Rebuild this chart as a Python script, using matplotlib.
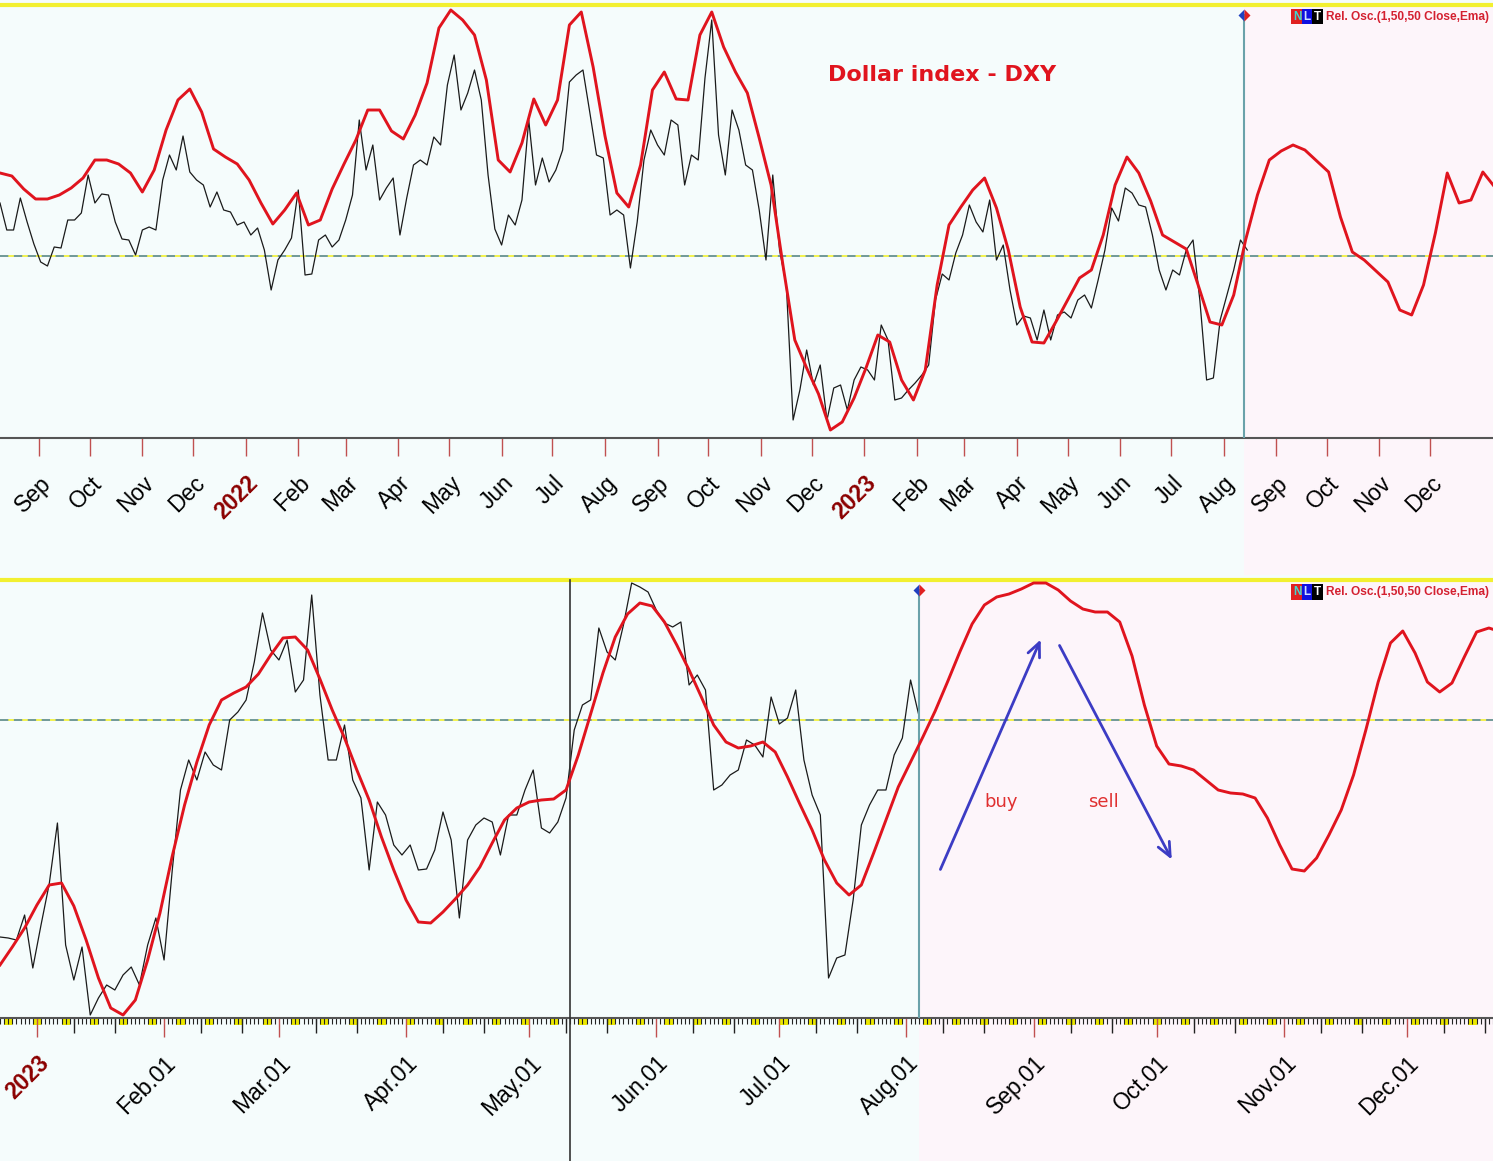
import numpy as np
import pandas as pd
import matplotlib
matplotlib.use('Agg')
import matplotlib.pyplot as plt
import matplotlib.dates as mdates
from matplotlib.patches import Rectangle
from matplotlib.transforms import blended_transform_factory

plt.rcParams['font.family'] = ['Liberation Sans', 'DejaVu Sans']
plt.rcParams['lines.scale_dashes'] = False

# ---- top panel: Aug 2021 .. Dec 2023 (oscillator units) ----
top_start = '2021-08-09'
top_red = [83, 80, 67, 57, 57, 61, 68, 78, 96, 96,
           92, 83, 64, 86, 126, 156, 167, 144, 107, 99,
           92, 76, 53, 32, 46, 63, 31, 36, 67, 92,
           116, 146, 146, 125, 117, 141, 173, 228, 246, 236,
           221, 176, 96, 84, 113, 157, 131, 156, 231, 244,
           189, 120, 63, 49, 91, 166, 184, 157, 156, 221,
           244, 209, 184, 163, 118, 71, -9, -84, -112, -138,
           -174, -166, -142, -112, -79, -86, -124, -144, -114, -29,
           31, 49, 66, 78, 48, 6, -51, -86, -87, -66,
           -44, -22, -14, 21, 71, 99, 83, 55, 21, 14,
           7, -29, -66, -69, -39, 16, 61, 96, 105, 111,
           106, 95, 84, 39, 4, -4, -15, -26, -54, -59,
           -29, 23, 83, 53, 56, 84, 69]
top_black = [53, 26, 26, 58, 34, 12, -6, -10, 9, 8,
             36, 36, 43, 81, 53, 62, 61, 34, 17, 16,
             1, 26, 29, 26, 76, 101, 86, 120, 84, 76,
             71, 49, 64, 46, 44, 31, 34, 21, 28, 6,
             -34, -4, 6, 18, 66, -19, -18, 16, 21, 9,
             16, 36, 61, 136, 86, 111, 56, 68, 78, 21,
             58, 91, 96, 91, 119, 111, 171, 201, 146, 163,
             186, 156, 81, 27, 11, 41, 31, 56, 136, 71,
             98, 74, 86, 106, 174, 181, 186, 144, 101, 98,
             41, 46, 41, -12, 34, 96, 126, 111, 101, 136,
             131, 71, 101, 96, 178, 236, 121, 81, 146, 126,
             91, 86, 46, -4, 81, 6, -29, -164, -134, -94,
             -129, -109, -164, -132, -129, -154, -124, -111, -114, -124,
             -69, -84, -144, -142, -134, -127, -119, -109, -44, -18,
             -24, 3, 21, 51, 34, 24, 56, -4, 11, -34,
             -69, -60, -62, -84, -54, -84, -59, -56, -62, -44,
             -39, -52, -24, 6, 48, 35, 68, 63, 51, 49,
             21, -14, -34, -14, -19, 6, 16, -44, -124, -122,
             -64, -39, -14, 16, 6]
top_end = '2024-01-07'
top_now = '2023-08-13'
top_ylim = (-182, 251)

# ---- bottom panel: 2023 zoom ----
bot_start = '2022-12-23'
bot_red = [-245, -227, -208, -185, -165, -163, -186, -220, -258, -288,
           -295, -280, -240, -193, -136, -85, -42, -5, 20, 27,
           33, 46, 65, 82, 83, 70, 41, 10, -18, -50,
           -80, -117, -150, -180, -202, -203, -192, -179, -165, -147,
           -123, -100, -88, -82, -80, -79, -70, -35, 6, 47,
           83, 106, 117, 114, 98, 75, 50, 23, -5, -22,
           -28, -26, -22, -32, -57, -84, -110, -140, -163, -175,
           -165, -133, -100, -67, -42, -17, 9, 38, 68, 96,
           115, 123, 126, 131, 137, 137, 130, 119, 111, 108,
           108, 98, 64, 15, -26, -44, -46, -50, -60, -70,
           -73, -74, -78, -98, -125, -149, -151, -138, -115, -90,
           -55, -10, 38, 77, 89, 67, 38, 28, 37, 63,
           88, 92, 88]
bot_black = [-217, -218, -220, -195, -248, -205, -164, -103, -225, -260,
             -227, -295, -278, -265, -270, -255, -247, -265, -225, -198,
             -240, -150, -70, -40, -60, -32, -45, -50, 0, 8,
             20, 58, 107, 70, 60, 80, 28, 40, 125, 25,
             -40, -40, -5, -60, -78, -150, -82, -95, -125, -135,
             -125, -150, -149, -130, -92, -120, -198, -120, -105, -98,
             -102, -135, -95, -95, -70, -50, -108, -113, -102, -78,
             -10, 15, 20, 92, 68, 60, 95, 137, 133, 128,
             110, 97, 93, 98, 35, 45, 30, -70, -65, -55,
             -50, -20, -25, -37, 23, -4, 2, 30, -40, -75,
             -95, -258, -238, -235, -180, -105, -85, -70, -70, -35,
             -18, 40, 5]
bot_end = '2023-12-22'
bot_now = '2023-08-04'
bot_mark = '2023-05-11'
bot_ylim = (-298, 140)

buy_arrow = ('2023-08-09', -152, '2023-09-03', 83)
sell_arrow = ('2023-09-07', 77, '2023-10-05', -142)
buy_text = ('2023-08-24', -82)
sell_text = ('2023-09-18', -82)

BG = '#f5fcfc'
PINK = '#fdf5fa'
RED = '#e0141e'
TEAL = '#6aa2aa'
YEL = '#f2f030'

top_red_x = pd.date_range(top_start, periods=len(top_red), freq='7D')
top_black_x = pd.date_range(top_start, periods=len(top_black), freq='4D')
bot_red_x = pd.date_range(bot_start, periods=len(bot_red), freq='3D')
bot_black_x = pd.date_range(bot_start, periods=len(bot_black), freq='2D')

fig = plt.figure(figsize=(14.93, 11.61), dpi=100, facecolor=BG)
ax1 = fig.add_axes([0, 1 - 438 / 1161, 1, 433 / 1161])
ax2 = fig.add_axes([0, 1 - 1018 / 1161, 1, 438 / 1161])


def num(d):
    return mdates.date2num(pd.Timestamp(d))


def style_panel(ax, start, end, ylim, now):
    ax.set_facecolor('none')
    ax.set_xlim(pd.Timestamp(start), pd.Timestamp(end))
    ax.set_ylim(*ylim)
    ax.set_yticks([])
    for s in ['left', 'right']:
        ax.spines[s].set_visible(False)
    ax.spines['top'].set_color(YEL)
    ax.spines['top'].set_linewidth(3)
    ax.spines['bottom'].set_color('#555555')
    ax.spines['bottom'].set_linewidth(1.5)
    # zero line: yellow under blue dashes
    ax.axhline(0, color=YEL, lw=1.2, zorder=1)
    ax.axhline(0, color='#5a8aa8', lw=1.2, ls=(0, (6, 4)), zorder=1)
    ax.axvline(pd.Timestamp(now), ymax=0.977, color=TEAL, lw=1.5, zorder=3)
    ax.plot([pd.Timestamp(now)], [ylim[1] - 0.023 * (ylim[1] - ylim[0])],
            marker='D', ms=6, mfc='#2040c0', mfcalt='#e02020',
            fillstyle='left', mec='none', clip_on=False, zorder=5)


def legend_tag(ax):
    boxes = [('N', '#40d8d0', '#e02020', 0), ('L', '#d0e0ff', '#1010e0', 7.5),
             ('T', '#ffffff', '#000000', 15.3)]
    for ch, fg, bg, dx in boxes:
        ax.annotate(ch, (0.866, 0.973), xycoords='axes fraction', xytext=(dx, 0),
                    textcoords='offset points', fontsize=8.5, fontweight='bold',
                    color=fg, va='center', ha='left', annotation_clip=False,
                    bbox=dict(boxstyle='square,pad=0.15', fc=bg, ec='none'))
    ax.annotate('Rel. Osc.(1,50,50 Close,Ema)', (0.866, 0.973), xycoords='axes fraction',
                xytext=(23.5, 0), textcoords='offset points', fontsize=8.6,
                fontweight='bold', color='#d42030', va='center', ha='left',
                annotation_clip=False)


def month_labels(ax, dates, labels):
    ax.set_xticks(dates)
    ax.set_xticklabels([''] * len(dates))
    for d, lab in zip(dates, labels):
        is_year = d.month == 1
        ax.annotate(lab, (d, 0), xycoords=('data', 'axes fraction'),
                    xytext=(6, -30), textcoords='offset points', rotation=45,
                    ha='right', va='center', rotation_mode='anchor',
                    fontsize=16.5, annotation_clip=False,
                    color='#8b0000' if is_year else 'black',
                    fontweight='bold' if is_year else 'normal')


# ---- pink "future" zones (behind the axes) ----
style_panel(ax1, top_start, top_end, top_ylim, top_now)
style_panel(ax2, bot_start, bot_end, bot_ylim, bot_now)
tr1 = blended_transform_factory(ax1.transData, fig.transFigure)
fig.add_artist(Rectangle((num(top_now), 1 - 575 / 1161), num(top_end) - num(top_now) + 5,
                         571 / 1161, transform=tr1, fc=PINK, ec='none', zorder=-1))
tr2 = blended_transform_factory(ax2.transData, fig.transFigure)
fig.add_artist(Rectangle((num(bot_now), 0), num(bot_end) - num(bot_now) + 5,
                         1 - 580 / 1161, transform=tr2, fc=PINK, ec='none', zorder=-1))

# ---- top panel ----
ax1.plot(top_black_x, top_black, color='#1a1a1a', lw=0.9, zorder=2)
ax1.plot(top_red_x, top_red, color=RED, lw=2.1, zorder=4, solid_joinstyle='round')
months1 = pd.date_range('2021-09-01', '2023-12-01', freq='MS')
labels1 = [d.strftime('%Y') if d.month == 1 else d.strftime('%b') for d in months1]
month_labels(ax1, months1, labels1)
ax1.tick_params(axis='x', which='major', length=13, width=1, color='#c05050')
ax1.text(0.631, 0.838, 'Dollar index - DXY', transform=ax1.transAxes, fontsize=16,
         fontweight='bold', family='DejaVu Sans', color=RED, ha='center', va='center')
legend_tag(ax1)

# ---- bottom panel ----
ax2.plot(bot_black_x, bot_black, color='#1a1a1a', lw=0.9, zorder=2)
ax2.plot(bot_red_x, bot_red, color=RED, lw=2.1, zorder=4, solid_joinstyle='round')
ax2.axvline(pd.Timestamp(bot_mark), ymin=-0.33, ymax=1, color='#333333', lw=1.2,
            clip_on=False, zorder=3)
months2 = pd.date_range('2023-01-01', '2023-12-01', freq='MS')
labels2 = ['2023' if d.month == 1 else d.strftime('%b.01') for d in months2]
month_labels(ax2, months2, labels2)
ax2.xaxis.set_minor_locator(mdates.DayLocator())
ax2.tick_params(axis='x', which='major', length=13.5, width=1, color='#c05050')
ax2.tick_params(axis='x', which='minor', length=4.5, width=0.8, color='#222222')
xt = ax2.get_xaxis_transform()
days = pd.date_range(bot_start, bot_end, freq='D')
for d in days:
    if d.weekday() >= 5:
        ax2.add_patch(Rectangle((num(d), -7 / 438), 1, 7 / 438, transform=xt,
                                fc='#ece800', ec='none', clip_on=False, zorder=1))
mids = [d for d in days if d.day in (10, 20)]
ax2.vlines(mids, -15 / 438, 0, transform=xt, colors='#222222', lw=1, clip_on=False)

for x0, y0, x1, y1 in (buy_arrow, sell_arrow):
    ax2.annotate('', xy=(num(x1), y1), xytext=(num(x0), y0),
                 arrowprops=dict(arrowstyle='->,head_length=1.0,head_width=0.45',
                                 color='#3c3cc4', lw=2), zorder=6)
ax2.text(num(buy_text[0]), buy_text[1], 'buy', color='#e03030', fontsize=13,
         family='DejaVu Sans', ha='center', va='center')
ax2.text(num(sell_text[0]), sell_text[1], 'sell', color='#e03030', fontsize=13,
         family='DejaVu Sans', ha='center', va='center')
legend_tag(ax2)

fig.savefig('out.png', dpi=100, facecolor=BG)
